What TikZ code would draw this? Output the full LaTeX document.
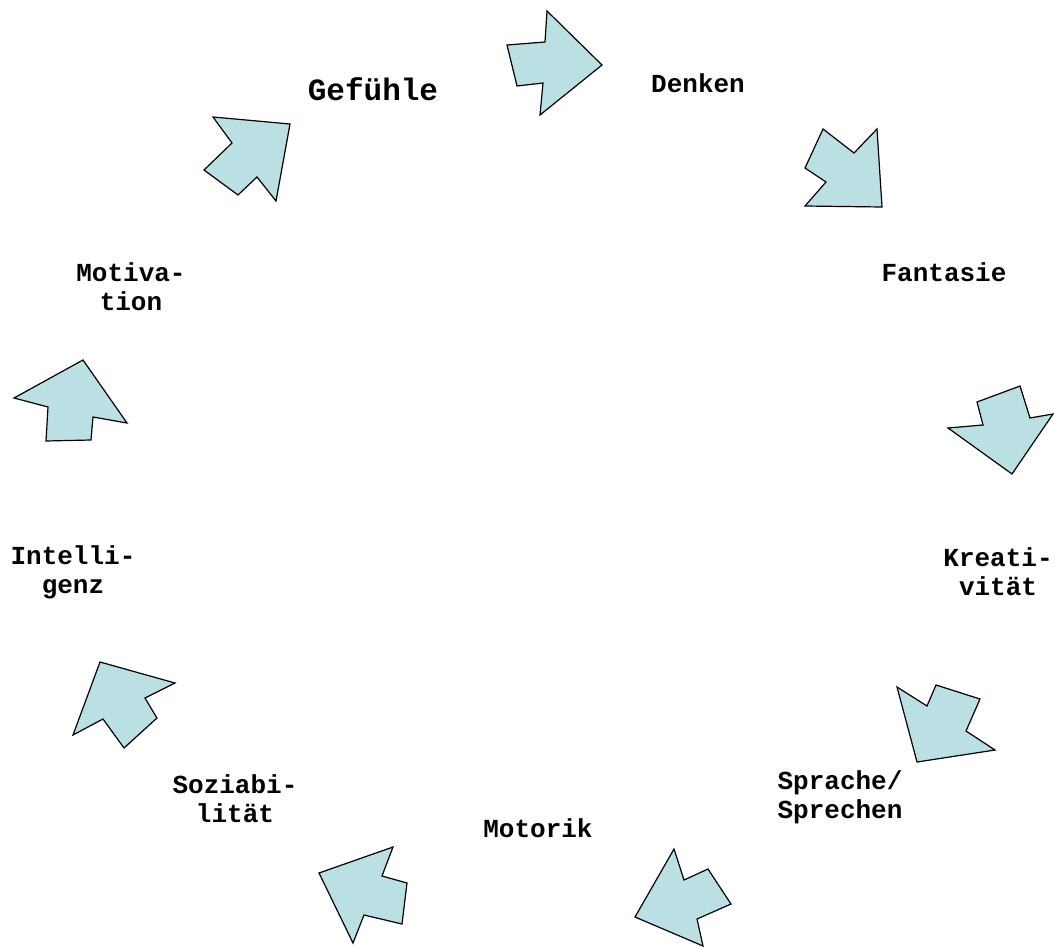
\documentclass[tikz,border=0pt]{standalone}
\usepackage{fontspec}
\setmainfont{Liberation Mono}
\definecolor{arrowfill}{RGB}{187,224,227}
\begin{document}
\begin{tikzpicture}[x=1pt, y=-1pt, line join=miter,
    blockarrow/.style={draw=black, fill=arrowfill, line width=1.2pt},
    topic/.style={font=\fontsize{26}{29}\selectfont\bfseries, align=center, inner sep=0pt}]
    \useasboundingbox (0,0) rectangle (1054,947);

    % Labels
    \node[topic, font=\fontsize{31}{34}\selectfont\bfseries] (gefuehle) at (373,89) {Gefühle};
    \node[topic] (denken) at (698,83) {Denken};
    \node[topic] (fantasie) at (944,272) {Fantasie};
    \node[topic] (kreativ) at (998,572) {Kreati-\\vität};
    \node[topic] (sprache) at (840,797) {Sprache/\\Sprechen};
    \node[topic] (motorik) at (538,828) {Motorik};
    \node[topic] (sozial) at (235,799) {Soziabi-\\lität};
    \node[topic] (intell) at (73,572) {Intelli-\\genz};
    \node[topic] (motiv) at (131,287) {Motiva-\\tion};

    % Arrows round the circle
    \draw[blockarrow] (507,45) -- (545,42) -- (547,11) -- (602,65) -- (540,115) -- (543,83) -- (517,86) -- cycle;
    \draw[blockarrow] (823,129) -- (854,153) -- (877,129) -- (882,207) -- (805,206) -- (826,182) -- (805,168) -- cycle;
    \draw[blockarrow] (977,402) -- (1020,386) -- (1030,418) -- (1053,414) -- (1012,474) -- (948,428) -- (983,425) -- cycle;
    \draw[blockarrow] (936,685) -- (980,699) -- (966,731) -- (995,750) -- (917,762) -- (897,687) -- (927,706) -- cycle;
    \draw[blockarrow] (708,869) -- (731,904) -- (697,919) -- (703,946) -- (635,917) -- (674,849) -- (684,880) -- cycle;
    \draw[blockarrow] (407,883) -- (402,924) -- (364,915) -- (353,943) -- (319,873) -- (393,847) -- (382,876) -- cycle;
    \draw[blockarrow] (157,718) -- (124,748) -- (103,719) -- (73,735) -- (100,662) -- (175,683) -- (145,698) -- cycle;
    \draw[blockarrow] (46,441) -- (48,407) -- (14,398) -- (83,360) -- (127,423) -- (93,417) -- (91,440) -- cycle;
    \draw[blockarrow] (204,170) -- (232,143) -- (213,117) -- (290,124) -- (276,201) -- (257,177) -- (238,195) -- cycle;

\end{tikzpicture}
\end{document}
